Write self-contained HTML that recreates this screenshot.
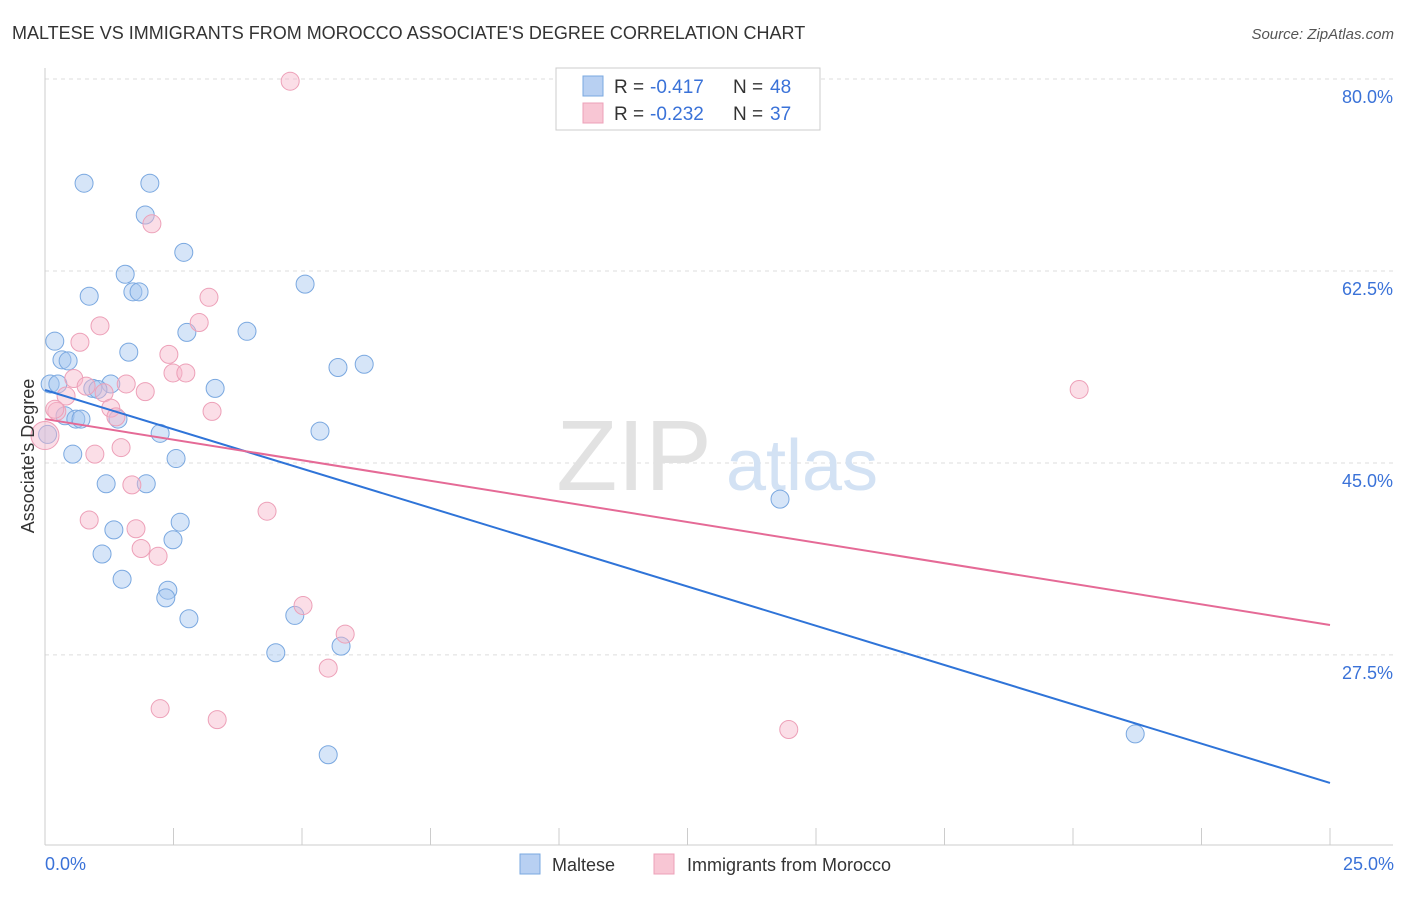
<!DOCTYPE html>
<html><head><meta charset="utf-8"><style>
body{margin:0;background:#fff;font-family:"Liberation Sans",sans-serif;}
svg text{font-family:"Liberation Sans",sans-serif;}
</style></head><body>
<svg id="chart" width="1406" height="892">
<text x="12" y="39" font-size="18" fill="#333">MALTESE VS IMMIGRANTS FROM MOROCCO ASSOCIATE'S DEGREE CORRELATION CHART</text>
<text x="1394" y="39" font-size="15" fill="#555" font-style="italic" text-anchor="end">Source: ZipAtlas.com</text>
<g id="grid"></g>
<text x="634" y="490" font-size="100" fill="#e2e2e2" font-family="Liberation Serif" text-anchor="middle">ZIP</text>
<text x="802" y="490" font-size="72" fill="#d3e2f4" text-anchor="middle">atlas</text>
<g id="marks"></g>
<text x="34" y="456" font-size="18" fill="#333" text-anchor="middle" transform="rotate(-90 34 456)">Associate's Degree</text>
<text x="45" y="870" font-size="18" fill="#3a72d8">0.0%</text>
<text x="1394" y="870" font-size="18" fill="#3a72d8" text-anchor="end">25.0%</text>
<g>
<rect x="556" y="68" width="264" height="62" fill="#fff" stroke="#ccc"/>
<rect x="583" y="76" width="20" height="20" fill="#b8d0f2" stroke="#7aa8e0"/>
<rect x="583" y="103" width="20" height="20" fill="#f8c6d4" stroke="#eda0b8"/>
<text x="614" y="93" font-size="19" fill="#333">R =</text>
<text x="650" y="93" font-size="19" fill="#3a72d8">-0.417</text>
<text x="733" y="93" font-size="19" fill="#333">N =</text>
<text x="770" y="93" font-size="19" fill="#3a72d8">48</text>
<text x="614" y="120" font-size="19" fill="#333">R =</text>
<text x="650" y="120" font-size="19" fill="#3a72d8">-0.232</text>
<text x="733" y="120" font-size="19" fill="#333">N =</text>
<text x="770" y="120" font-size="19" fill="#3a72d8">37</text>
</g>
<g>
<rect x="520" y="854" width="20" height="20" fill="#b8d0f2" stroke="#7aa8e0"/>
<text x="552" y="871" font-size="18" fill="#333">Maltese</text>
<rect x="654" y="854" width="20" height="20" fill="#f8c6d4" stroke="#eda0b8"/>
<text x="687" y="871" font-size="18" fill="#333">Immigrants from Morocco</text>
</g>
</svg>
<script>
const yTicks=[80,62.5,45,27.5];
const xTickVals=[0,2.5,5,7.5,10,12.5,15,17.5,20,22.5,25];
const malteseX=[0.76,2.04,1.95,2.70,1.56,0.86,1.71,1.83,5.06,2.76,3.93,0.19,1.63,0.33,0.45,5.70,6.21,0.10,0.25,3.31,1.28,0.93,1.03,0.39,0.60,0.70,1.42,5.35,2.24,0.54,2.55,1.19,1.97,14.3,2.63,1.34,2.49,1.11,1.50,2.39,2.35,4.86,2.80,4.49,5.76,5.51,21.21,0.05];
const malteseY=[70.5,70.5,67.6,64.2,62.2,60.2,60.6,60.6,61.3,56.9,57.0,56.1,55.1,54.4,54.3,53.7,54.0,52.2,52.2,51.8,52.2,51.8,51.7,49.3,49.0,49.0,49.0,47.9,47.7,45.8,45.4,43.1,43.1,41.7,39.6,38.9,38.0,36.7,34.4,33.4,32.7,31.1,30.8,27.7,28.3,18.4,20.3,47.6];
const moroccoX=[4.77,2.08,3.19,3.00,1.07,0.68,2.41,2.49,2.74,0.56,1.58,1.95,0.80,1.15,0.41,0.23,1.28,3.25,1.38,0.0,0.97,1.48,1.69,20.12,0.86,4.32,1.77,1.87,2.20,5.02,5.84,5.51,2.24,3.35,14.47,0.19];
const moroccoY=[79.8,66.8,60.1,57.8,57.5,56.0,54.9,53.2,53.2,52.7,52.2,51.5,52.0,51.4,51.1,49.7,50.0,49.7,49.2,47.5,45.8,46.4,43.0,51.7,39.8,40.6,39.0,37.2,36.5,32.0,29.4,26.3,22.6,21.6,20.7,49.9];
const malteseLine=[51.65,15.83];
const moroccoLine=[49.0,30.23];
const NS='http://www.w3.org/2000/svg';
const xs=v=>45+v*51.4;
const ys=v=>79+(80-v)*10.97;
const grid=document.getElementById('grid'),marks=document.getElementById('marks');
function mk(tag,at,parent){const e=document.createElementNS(NS,tag);for(const k in at)e.setAttribute(k,at[k]);parent.appendChild(e);return e;}
yTicks.forEach(t=>{
 const l=mk('line',{x1:45,x2:1393,y1:ys(t),y2:ys(t),stroke:'#ddd','stroke-dasharray':'4,4'},grid);
 
 
 const tx=mk('text',{x:1393,y:ys(t)+24,'font-size':18,fill:'#3a72d8','text-anchor':'end'},grid);
 tx.textContent=t.toFixed(1)+'%';
 
 
});
const ax=mk('line',{x1:45,x2:45,y1:68,y2:845,stroke:'#ccc'},grid);


const bx=mk('line',{x1:45,x2:1393,y1:845,y2:845,stroke:'#ccc'},grid);


xTickVals.forEach(t=>{
 const l=mk('line',{x1:xs(t),x2:xs(t),y1:828,y2:845,stroke:'#ccc'},grid);
 
 
});
function pts(X,Y,fill,stroke,name){X.forEach((x,i)=>{
 const c=mk('circle',{cx:xs(x),cy:ys(Y[i]),r:(x===0?14:9),fill:fill,stroke:stroke,'stroke-width':1},marks);
 
 
});}
pts(malteseX,malteseY,'rgba(165,198,240,0.45)','#7aa8e0','maltese-point');
pts(moroccoX,moroccoY,'rgba(246,182,202,0.45)','#eda0b8','morocco-point');
const l1=mk('line',{x1:xs(0),y1:ys(malteseLine[0]),x2:xs(25),y2:ys(malteseLine[1]),stroke:'#2f74d8','stroke-width':2},marks);


const l2=mk('line',{x1:xs(0),y1:ys(moroccoLine[0]),x2:xs(25),y2:ys(moroccoLine[1]),stroke:'#e56a96','stroke-width':2},marks);


</script>
</body></html>
